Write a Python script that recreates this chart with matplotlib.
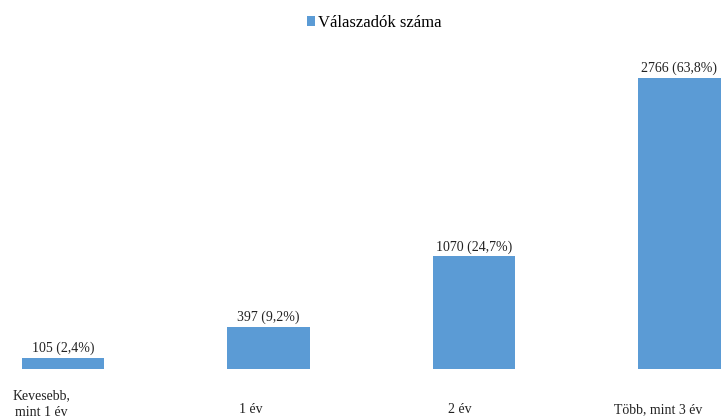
import matplotlib.pyplot as plt
import matplotlib.transforms as mtransforms

categories = ["Kevesebb,\nmint 1 év", "1 év", "2 év", "Több, mint 3 év"]
counts = [105, 397, 1070, 2766]
shares = ["2,4", "9,2", "24,7", "63,8"]

plt.rcParams['font.family'] = ['Liberation Serif', 'DejaVu Serif']

fig = plt.figure(figsize=(7.21, 4.16), dpi=100)
ax = fig.add_axes([0, 47 / 416, 1, 369 / 416])

pos = list(range(len(categories)))
bars = ax.bar(pos, counts, width=0.4, color='#5B9BD5', label='Válaszadók száma')

# value labels above each bar
for rect, n, s in zip(bars, counts, shares):
    ax.annotate(f"{n} ({s}%)", (rect.get_x() + rect.get_width() / 2, rect.get_height()),
                xytext=(0, 2), textcoords='offset points',
                ha='center', va='bottom', fontsize=10, color='#222222')

ax.set_xlim(-0.3066, 3.202)
ax.set_ylim(0, 3507)
ax.set_xticks(pos)
ax.set_xticklabels(categories, fontsize=10, color='#222222', linespacing=1.35)
ax.tick_params(axis='x', length=0, pad=14)
ax.set_yticks([])
for sp in ax.spines.values():
    sp.set_visible(False)

# labels sit a bit left of (and below) the bar centres in the original
shifts = [(-22, -1), (-18, -15), (-14, -15), (-21, -15)]
for lab, (dx, dy) in zip(ax.get_xticklabels(), shifts):
    lab.set_multialignment('center')
    lab.set_transform(lab.get_transform() + mtransforms.ScaledTranslation(dx / 100, dy / 100, fig.dpi_scale_trans))

fig.legend(loc='center', bbox_to_anchor=(0.519, 1 - 23 / 416), frameon=False, fontsize=12,
           handlelength=0.48, handleheight=0.48, handletextpad=0.2, borderpad=0)

fig.savefig('out.png', dpi=100)
